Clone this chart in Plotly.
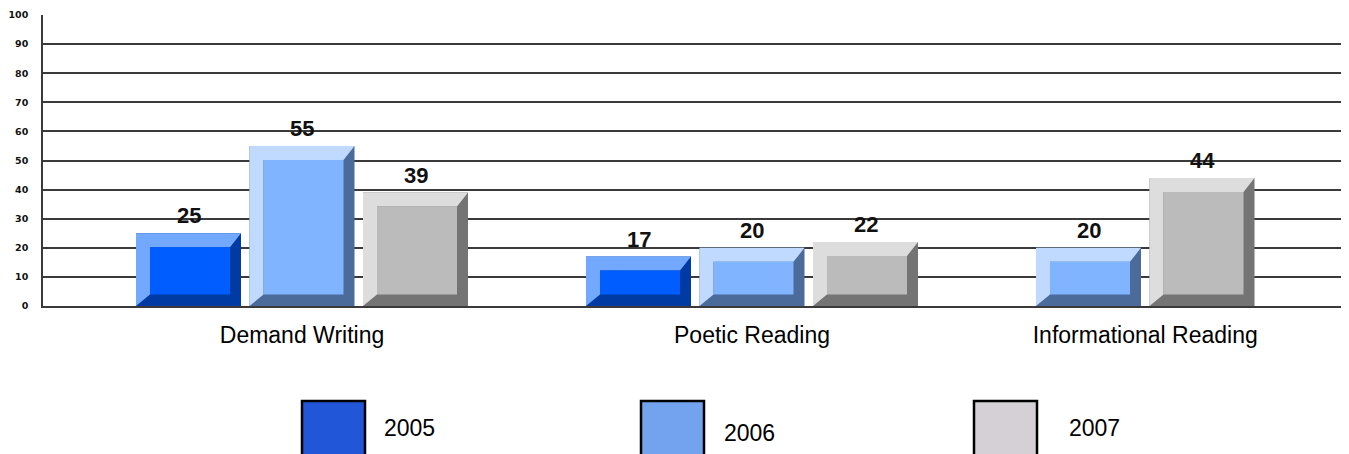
import plotly.graph_objects as go

# ---------------- data ----------------
categories = ["Demand Writing", "Poetic Reading", "Informational Reading"]
series_names = ["2005", "2006", "2007"]
values_2005 = [25, 17, None]
values_2006 = [55, 20, 20]
values_2007 = [39, 22, 44]
y_tick_values = [0, 10, 20, 30, 40, 50, 60, 70, 80, 90, 100]
y_tick_labels = ["0", "10", "20", "30", "40", "50", "60", "70", "80", "90", "100"]

series_values = [values_2005, values_2006, values_2007]

# ---------------- styles ----------------
face_colors = ["#005dff", "#80b4ff", "#bbbbbb"]
light_colors = ["#72a9ff", "#bfd9ff", "#dddddd"]
dark_colors = ["#003aa3", "#4b6b9a", "#747474"]
legend_colors = ["#2256d9", "#73a3ee", "#d4d0d6"]

# page is 1349x454; the html body adds an 8px margin, so the figure starts at (8, 8)
PAGE_W, PAGE_H = 1349, 454
OFF = 8
W, H = PAGE_W - OFF, PAGE_H - OFF
plot_left_px, plot_top_px, plot_bottom_px = 43, 15, 306   # page pixels
L = plot_left_px - OFF
T = plot_top_px - OFF
B = PAGE_H - plot_bottom_px
R = 0
plot_w = W - L - R
plot_h = H - T - B

PX_PER_GROUP = 450.0
first_center_px = 302.0
x_range = [(plot_left_px - first_center_px) / PX_PER_GROUP, (PAGE_W - first_center_px) / PX_PER_GROUP]
y_range = [0, 100]
px_per_y = plot_h / (y_range[1] - y_range[0])

slot = 113.5 / PX_PER_GROUP
half_w = 52.5 / PX_PER_GROUP
bev_l = 14 / PX_PER_GROUP
bev_r = 11 / PX_PER_GROUP
bev_t = 14 / px_per_y
bev_b = 11.5 / px_per_y

fig = go.Figure()

dark_x, dark_y = [[] for _ in series_names], [[] for _ in series_names]
light_x, light_y = [[] for _ in series_names], [[] for _ in series_names]
face_x, face_y = [[] for _ in series_names], [[] for _ in series_names]
annotations = []
tick_positions = []

for gi, cat in enumerate(categories):
    present = [si for si in range(len(series_names)) if series_values[si][gi] is not None]
    centers = []
    for rank, si in enumerate(present):
        v = series_values[si][gi]
        cx = gi + (rank - 1) * slot
        centers.append(cx)
        xl, xr = cx - half_w, cx + half_w
        # dark outer block
        dark_x[si] += [xl, xr, xr, xl, xl, None]
        dark_y[si] += [0, 0, v, v, 0, None]
        # light top + left bevel
        light_x[si] += [xl, xl, xr, xr - bev_r, xl + bev_l, xl + bev_l, xl, None]
        light_y[si] += [0, v, v, v - bev_t, v - bev_t, bev_b, 0, None]
        # inner face
        face_x[si] += [xl + bev_l, xr - bev_r, xr - bev_r, xl + bev_l, xl + bev_l, None]
        face_y[si] += [bev_b, bev_b, v - bev_t, v - bev_t, bev_b, None]
        annotations.append(dict(
            x=cx, y=v, xref="x", yref="y", text=str(v), showarrow=False,
            yanchor="bottom", xanchor="center", yshift=3,
            font=dict(family="Liberation Sans, Arial", size=22, color="#111111", weight="bold"),
        ))
    tick_positions.append(sum(centers) / len(centers))

for layer_x, layer_y, colors in ((dark_x, dark_y, dark_colors),
                                 (light_x, light_y, light_colors),
                                 (face_x, face_y, face_colors)):
    for si, name in enumerate(series_names):
        fig.add_trace(go.Scatter(
            x=layer_x[si], y=layer_y[si], mode="lines", fill="toself",
            fillcolor=colors[si], line=dict(width=0, color=colors[si]),
            hoverinfo="skip", showlegend=False, name=name,
        ))


def paper_x(px):
    return (px - plot_left_px) / plot_w


def paper_y(py):
    return (plot_bottom_px - py) / plot_h


# legend (bottom, custom squares), page pixel positions
legend_left_px = [302, 641, 974]
legend_text_px = [382, 722, 1067]
legend_text_y = [428, 433, 428]
shapes = []
for i, name in enumerate(series_names):
    shapes.append(dict(
        type="rect", xref="paper", yref="paper",
        x0=paper_x(legend_left_px[i]), x1=paper_x(legend_left_px[i] + 63),
        y0=paper_y(401), y1=paper_y(466),
        fillcolor=legend_colors[i], line=dict(color="#000000", width=2.5),
    ))
    annotations.append(dict(
        x=paper_x(legend_text_px[i]), y=paper_y(legend_text_y[i]),
        xref="paper", yref="paper", text=name, showarrow=False,
        xanchor="left", yanchor="middle",
        font=dict(family="Liberation Sans, Arial", size=23, color="#000000"),
    ))

fig.update_layout(
    width=W, height=H,
    margin=dict(l=L, r=R, t=T, b=B, pad=0, autoexpand=False),
    paper_bgcolor="white", plot_bgcolor="white",
    showlegend=False,
    shapes=shapes,
    annotations=annotations,
    xaxis=dict(
        range=x_range, showgrid=False, zeroline=False, automargin=False,
        showline=True, linecolor="#3a3a3a", linewidth=1.5,
        tickmode="array", tickvals=tick_positions, ticktext=categories,
        ticks="", ticklabelstandoff=8,
        tickfont=dict(family="Liberation Sans, Arial", size=23, color="#000000"),
        fixedrange=True,
    ),
    yaxis=dict(
        range=y_range, showgrid=True, gridcolor="#3a3a3a", gridwidth=1.5,
        zeroline=False, showline=True, linecolor="#3a3a3a", linewidth=1.5,
        automargin=False,
        tickmode="array", tickvals=y_tick_values, ticktext=y_tick_labels,
        ticks="", ticklabelstandoff=11,
        tickfont=dict(family="DejaVu Sans", size=9.5, color="#111111", weight="bold"),
        fixedrange=True,
    ),
)

fig.write_html("out.html")
